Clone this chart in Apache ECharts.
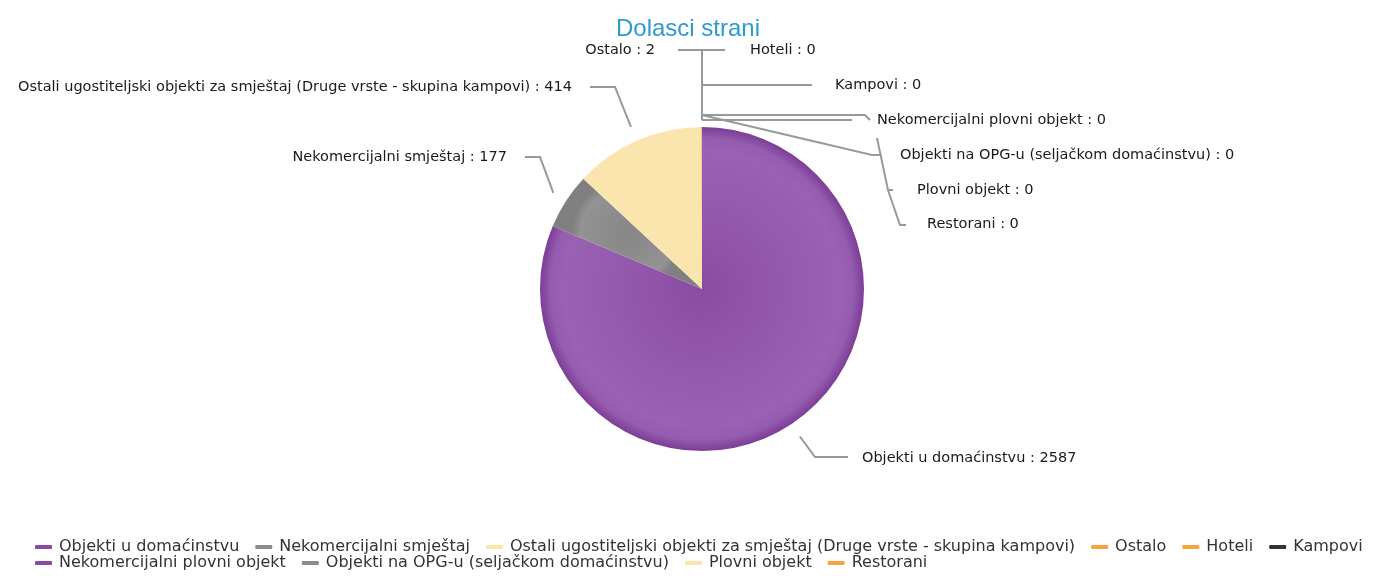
<!DOCTYPE html>
<html>
<head>
<meta charset="utf-8">
<script src="https://cdn.jsdelivr.net/npm/echarts@6/dist/echarts.min.js"></script>
<style>
  html, body { margin: 0; padding: 0; background: #fff; }
  #chart { width: 1376px; height: 576px; }
</style>
</head>
<body>
<div id="chart"></div>
<script>
// podaci
const categories = [
  'Objekti u domaćinstvu',
  'Nekomercijalni smještaj',
  'Ostali ugostiteljski objekti za smještaj (Druge vrste - skupina kampovi)',
  'Ostalo',
  'Hoteli',
  'Kampovi',
  'Nekomercijalni plovni objekt',
  'Objekti na OPG-u (seljačkom domaćinstvu)',
  'Plovni objekt',
  'Restorani'
]
const values = [2587, 177, 414, 2, 0, 0, 0, 0, 0, 0]

const cx = 702, cy = 289, R = 162

// raspored natpisa (kao u izvorniku) - linija i pozicija teksta
const spots = [
  { line: [[815, 457], [848, 457]], x: 862, y: 458, align: 'left' },
  { line: [[540, 157], [525, 157]], x: 507, y: 157, align: 'right' },
  { line: [[615, 87], [590, 87]], x: 572, y: 87, align: 'right' },
  { from: [cx, 120], line: [[cx, 50], [678, 50]], x: 655, y: 50, align: 'right' },
  { from: [cx, 120], line: [[cx, 50], [725, 50]], x: 750, y: 50, align: 'left' },
  { from: [cx, 120], line: [[cx, 85], [812, 85]], x: 835, y: 85, align: 'left' },
  { from: [cx, 115], line: [[865, 115], [870, 120]], x: 877, y: 120, align: 'left' },
  { from: [cx, 115], line: [[872, 155], [880, 155]], x: 900, y: 155, align: 'left' },
  { from: [cx, 120], line: [[852, 120]], x: 917, y: 190, align: 'left' },
  { from: [877, 138], line: [[888, 190], [893, 190], [888, 190], [900, 225], [906, 225]], x: 927, y: 224, align: 'left' }
]

const purple = {
  type: 'radial', x: 0.5, y: 0.5, r: 0.5,
  colorStops: [
    { offset: 0, color: '#8a4ca2' },
    { offset: 0.85, color: '#9a62b3' },
    { offset: 0.93, color: '#955db0' },
    { offset: 1, color: '#7c3d96' }
  ]
}
const gray = {
  type: 'radial', x: 0.5, y: 0.5, r: 0.5,
  colorStops: [
    { offset: 0, color: '#868686' },
    { offset: 0.85, color: '#939393' },
    { offset: 1, color: '#808080' }
  ]
}
const colors = ['#8a4ca2', '#8c8c8c', '#fae5ae', '#f6a53c', '#f6a53c', '#333333', '#8a4ca2', '#8c8c8c', '#fae5ae', '#f6a53c']
const fills = [purple, gray, '#fae5ae', '#f6a53c', '#f6a53c', '#333333', purple, gray, '#fae5ae', '#f6a53c']

const chart = echarts.init(document.getElementById('chart'))
chart.setOption({
  animation: false,
  title: {
    text: 'Dolasci strani',
    left: 'center',
    top: 12,
    textStyle: { color: '#2c9ad1', fontSize: 24, fontWeight: 'normal', fontFamily: 'Liberation Sans' }
  },
  legend: {
    top: 534,
    left: 30,
    width: 1380,
    icon: 'roundRect',
    itemWidth: 17,
    itemHeight: 4,
    itemGap: 0,
    textStyle: {
      color: '#333',
      fontSize: 16,
      lineHeight: 16,
      padding: [0, 16, 0, 2],
      fontFamily: 'DejaVu Sans'
    },
    data: categories.map((c, i) => ({ name: c, itemStyle: { color: colors[i] } }))
  },
  series: [{
    type: 'pie',
    center: [cx, cy],
    radius: R,
    startAngle: 90,
    clockwise: true,
    minShowLabelAngle: 0,
    label: {
      formatter: '{b} : {c}',
      color: '#1a1a1a',
      fontSize: 14.5,
      overflow: 'none',
      fontFamily: 'DejaVu Sans'
    },
    labelLine: {
      length: 30,
      length2: 30,
      lineStyle: { color: '#999', width: 2 }
    },
    labelLayout: (params) => {
      const s = spots[params.dataIndex]
      let p0 = s.from
      if (!p0) {
        // produži od ruba kriške prema van
        const e = params.labelLinePoints[0]
        const dx = e[0] - cx, dy = e[1] - cy
        const d = Math.sqrt(dx * dx + dy * dy)
        p0 = [cx + dx / d * (R + 15), cy + dy / d * (R + 15)]
      }
      return {
        x: s.x,
        y: s.y,
        align: s.align,
        verticalAlign: 'middle',
        labelLinePoints: [p0].concat(s.line)
      }
    },
    data: categories.map((c, i) => ({
      name: c,
      value: values[i],
      itemStyle: { color: fills[i] }
    }))
  }]
})
</script>
</body>
</html>
